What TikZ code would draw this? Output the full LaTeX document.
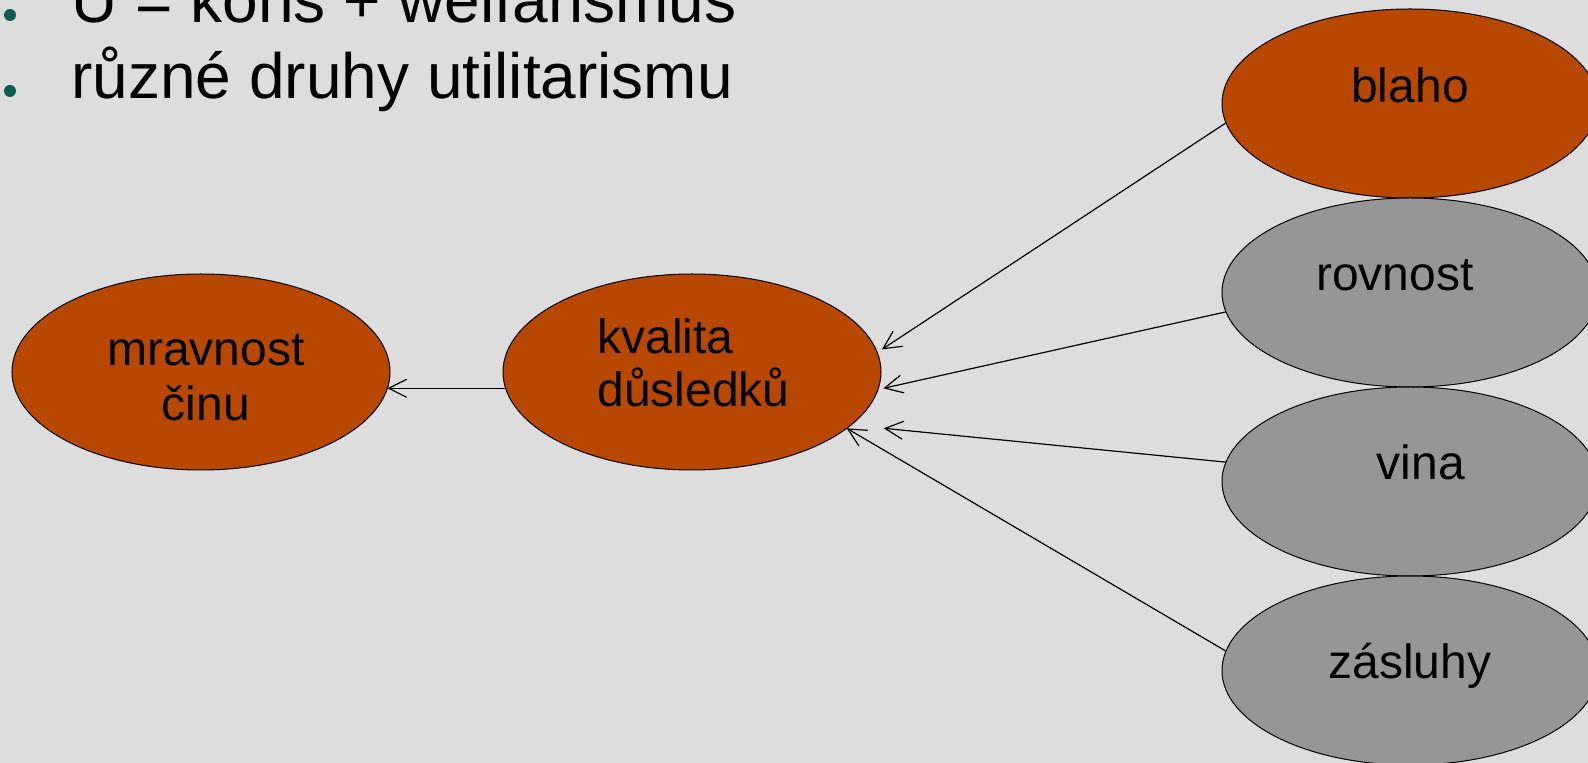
\documentclass[tikz,border=0pt]{standalone}
\usepackage{fontspec}
\setmainfont{Liberation Sans}
\usetikzlibrary{shapes.geometric,arrows.meta}
\definecolor{bg}{HTML}{DDDDDD}
\definecolor{rust}{HTML}{B84700}
\definecolor{greyfill}{HTML}{969696}
\definecolor{bulletc}{HTML}{0E5E50}
\begin{document}
\begin{tikzpicture}[x=0.5pt,y=-0.5pt,
  ovalbase/.style={ellipse, draw=black, line width=0.5pt, inner sep=0pt, outer sep=0pt},
  leftoval/.style={ovalbase, fill=rust, minimum width=189pt, minimum height=98pt},
  rightoval/.style={ovalbase, minimum width=188pt, minimum height=94.5pt},
  lbl/.style={inner sep=0pt, anchor=base, font=\fontsize{24}{28}\selectfont},
  toptext/.style={inner sep=0pt, anchor=base west, font=\fontsize{32}{38}\selectfont},
  conn/.style={line width=0.6pt, -{Straight Barb[length=9pt,width=9pt]}}
]
\useasboundingbox (0,0) rectangle (1588,763);
\clip (0,0) rectangle (1588,763);
\fill[bg] (0,0) rectangle (1588,763);

% bullets and top text
\fill[bulletc] (10,15) circle (3pt);
\fill[bulletc] (10,91) circle (3pt);
\node[toptext] (t1) at (71,23) {U = kons + welfarismus};
\node[toptext] (t2) at (71,99) {různé druhy utilitarismu};

% ellipses
\node[leftoval] (mr) at (201,372) {};
\node[leftoval] (kv) at (692,372) {};
\node[rightoval, fill=rust] (bl) at (1410,103.5) {};
\node[rightoval, fill=greyfill] (ro) at (1410,292.5) {};
\node[rightoval, fill=greyfill] (vi) at (1410,481.5) {};
\node[rightoval, fill=greyfill] (za) at (1410,670.5) {};

% labels
\node[lbl] (mrt1) at (206,366) {mravnost};
\node[lbl] (mrt2) at (206,421) {činu};
\node[lbl, anchor=base west] (kvt1) at (597,354) {kvalita};
\node[lbl, anchor=base west] (kvt2) at (597,407) {důsledků};
\node[lbl] (blt) at (1410,103) {blaho};
\node[lbl] (rot) at (1395,291) {rovnost};
\node[lbl] (vit) at (1421,480) {vina};
\node[lbl] (zat) at (1410,678) {zásluhy};

% connectors
\draw[conn] (bl.186) -- ([xshift=3pt]kv.7);
\draw[conn] (ro.186) -- ([xshift=2.5pt]kv.-5);
\draw[conn] (vi.174) -- ([xshift=18.5pt]kv.-20);
\draw[conn] (za.174) -- (kv.-20);
\draw[conn] (kv.185) -- (mr.-5);
\end{tikzpicture}
\end{document}
